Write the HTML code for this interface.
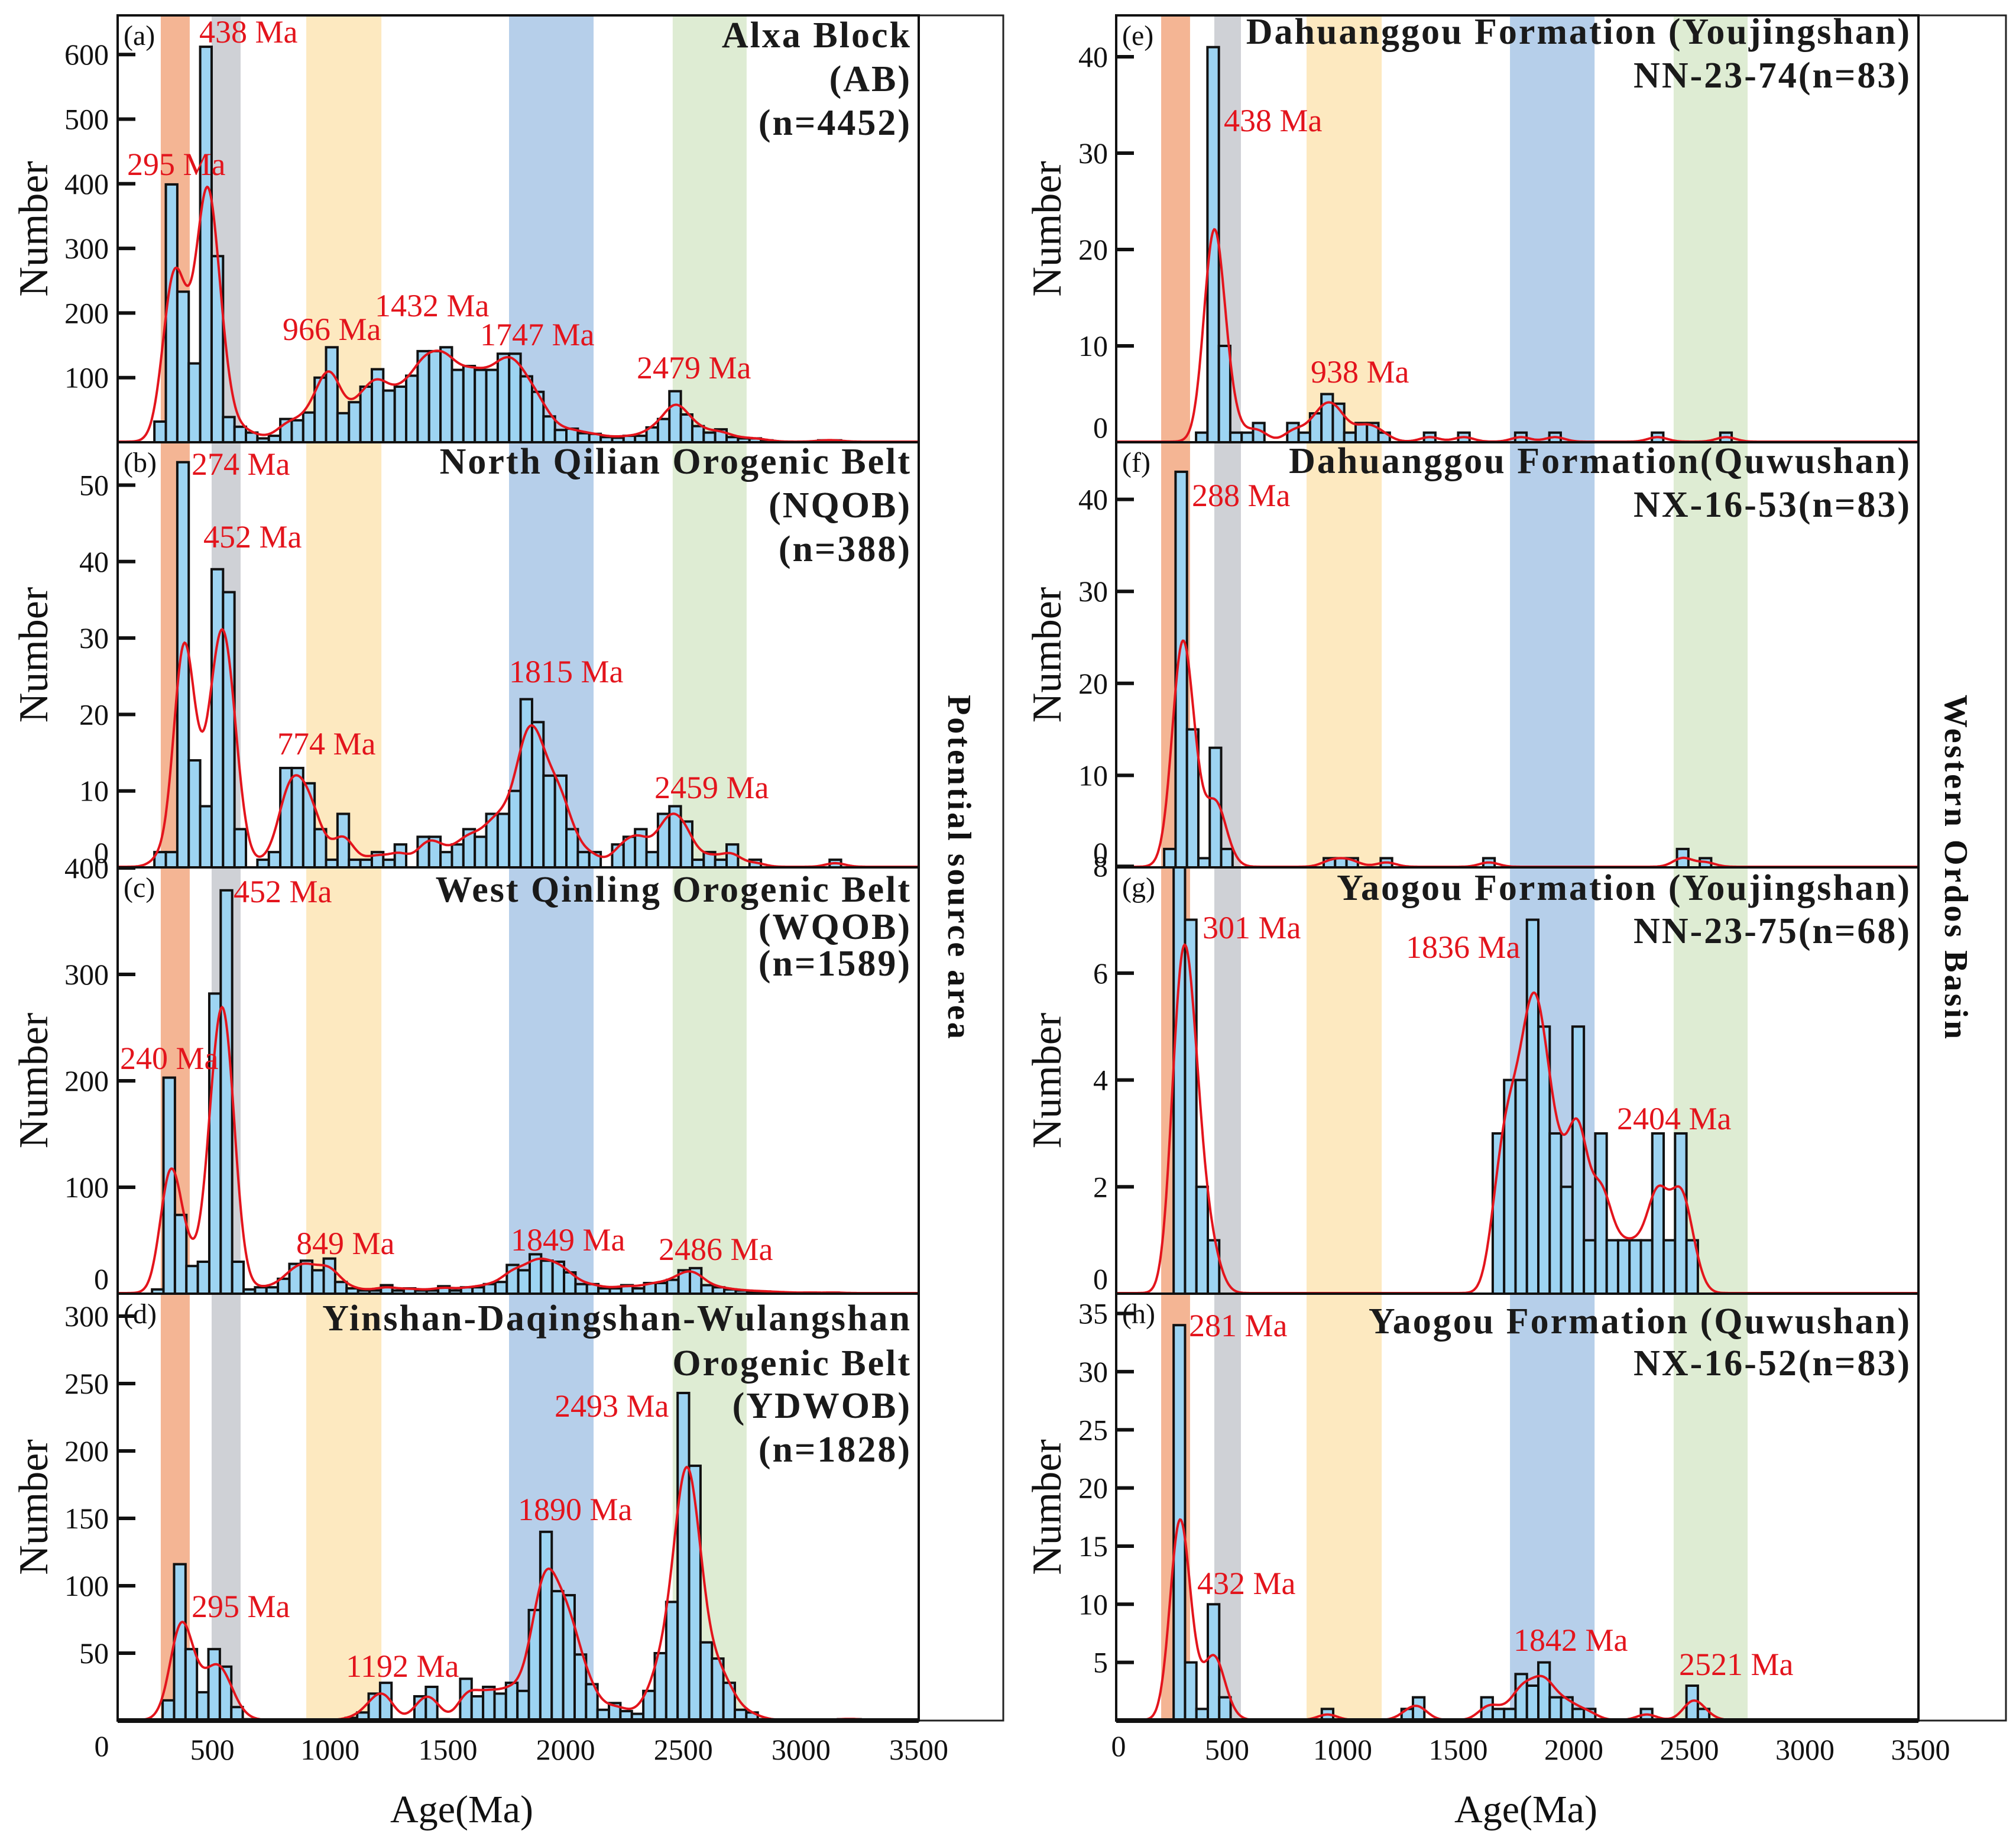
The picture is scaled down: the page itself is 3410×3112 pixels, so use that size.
<!DOCTYPE html>
<html><head><meta charset="utf-8"><style>
html,body{margin:0;padding:0;background:#fff}
svg{display:block}
text{font-family:"Liberation Serif",serif}
</style></head><body>
<svg id="fig" xmlns="http://www.w3.org/2000/svg" width="3410" height="3112" viewBox="0 0 3410 3112">
<rect x="0" y="0" width="3410" height="3112" fill="#fff"/>
<g id="layer"></g>
</svg>
<script>
// ---- data: histogram counts (one value per age bin) ----
const valsA=[32,399,233,122,612,288,39,24,15,6,10,36,34,46,100,147,45,62,86,113,80,86,103,141,141,147,112,118,112,112,137,137,102,78,40,19,21,14,13,8,7,10,10,23,36,79,43,25,15,20,8,6,6,3,0,0,0,0,3,3];
const valsB=[2,2,53,14,8,39,36,5,0,1,2,13,13,11,5,1,7,1,1,2,1,3,0,4,4,2,3,5,4,7,7,10,22,19,12,12,5,2,2,0,3,4,5,2,7,8,6,1,2,1,3,0,1,0,0,0,0,0,0,1];
const valsC=[4,203,74,26,30,282,379,30,4,6,6,14,28,31,22,33,11,5,3,3,8,3,5,3,3,7,3,6,6,9,11,27,22,37,31,30,20,9,9,5,5,8,5,10,10,13,22,24,8,6,4,3,2,2,1,1,0,1,0,1];
const valsD=[15,116,53,21,53,40,10,1,0,0,0,0,0,0,0,0,2,6,20,28,0,0,18,25,1,0,31,18,25,20,28,22,82,140,96,93,49,27,8,13,7,5,22,50,88,243,189,58,46,28,8,6,1,0,0,0,0,0,0,1,1];
const valsE=[1,41,10,1,1,2,0,0,2,1,3,5,4,1,2,2,1,0,0,0,1,0,0,1,0,0,0,0,1,0,0,1,0,0,0,0,0,0,0,0,1,0,0,0,0,0,1];
const valsF=[2,43,15,1,13,2,0,0,0,0,0,0,0,0,1,1,1,0,0,1,0,0,0,0,0,0,0,0,1,0,0,0,0,0,0,0,0,0,0,0,0,0,0,0,0,2,0,1];
const valsG=[9,7,2,1,0,0,0,0,0,0,0,0,0,0,0,0,0,0,0,0,0,0,0,0,0,0,0,0,3,4,4,7,5,3,2,5,1,3,1,1,1,1,3,1,3,1];
const valsH=[34,5,1,10,2,0,0,0,0,0,0,0,0,1,0,0,0,0,0,0,1,2,0,0,0,0,0,2,1,1,4,3,5,2,2,1,1,0,0,0,0,1,0,0,0,3,1];
// first-bin start age (Ma) and bin width (Ma)
const binStarts=[254,254,244,289,366,228,269,269];
const binWidths=[48.6,48.6,48.6,48.6,49.3,49.3,49.3,49.3];
// y tick values per panel
const yTicksA=[100,200,300,400,500,600];
const yTicksB=[0,10,20,30,40,50];
const yTicksC=[0,100,200,300,400];
const yTicksD=[50,100,150,200,250,300];
const yTicksE=[0,10,20,30,40];
const yTicksF=[0,10,20,30,40];
const yTicksG=[0,2,4,6,8];
const yTicksH=[5,10,15,20,25,30,35];
const xTicks=[0,500,1000,1500,2000,2500,3000,3500];
// age bands (Ma) [start,end] per column
const bandsLeft=[[281,404],[497,620],[899,1218],[1760,2119],[2455,2769]];
const bandsRight=[[215,340],[445,560],[844,1169],[1724,2090],[2432,2752]];
const bandColors=['#f4b594','#cfd1d6','#fde9c0','#b6cfea','#deecd3'];
// peak labels
const peaksA=[['438 Ma',337,72],['295 Ma',215,296],['966 Ma',478,575],['1432 Ma',634,535],['1747 Ma',812,584],['2479 Ma',1077,640]];
const peaksB=[['274 Ma',324,803],['452 Ma',344,926],['774 Ma',469,1276],['1815 Ma',861,1154],['2459 Ma',1107,1350]];
const peaksC=[['452 Ma',395,1526],['240 Ma',203,1808],['849 Ma',501,2121],['1849 Ma',864,2115],['2486 Ma',1114,2131]];
const peaksD=[['2493 Ma',938,2396],['1890 Ma',876,2571],['295 Ma',324,2735],['1192 Ma',585,2836]];
const peaksE=[['438 Ma',2070,222],['938 Ma',2217,647]];
const peaksF=[['288 Ma',2016,856]];
const peaksG=[['301 Ma',2034,1587],['1836 Ma',2378,1620],['2404 Ma',2735,1910]];
const peaksH=[['281 Ma',2011,2260],['432 Ma',2025,2696],['1842 Ma',2560,2792],['2521 Ma',2840,2833]];
const titlesA=['Alxa Block','(AB)','(n=4452)'];
const titlesB=['North Qilian Orogenic Belt','(NQOB)','(n=388)'];
const titlesC=['West Qinling Orogenic Belt','(WQOB)','(n=1589)'];
const titlesD=['Yinshan-Daqingshan-Wulangshan','Orogenic Belt','(YDWOB)','(n=1828)'];
const titlesE=['Dahuanggou Formation (Youjingshan)','NN-23-74(n=83)'];
const titlesF=['Dahuanggou Formation(Quwushan)','NX-16-53(n=83)'];
const titlesG=['Yaogou Formation (Youjingshan)','NN-23-75(n=68)'];
const titlesH=['Yaogou Formation (Quwushan)','NX-16-52(n=83)'];

// ---- layout ----
const NS='http://www.w3.org/2000/svg';
const layer=document.getElementById('layer');
function mk(tag,attrs,parent){const e=document.createElementNS(NS,tag);for(const k in attrs)e.setAttribute(k,attrs[k]);(parent||layer).appendChild(e);return e;}
const cols=[{x0:160,k:0.3983,left:199,right:1554,outer:1697,bands:bandsLeft,labR:184},{x0:1880,k:0.391,left:1888,right:3245,outer:3393,bands:bandsRight,labR:1874}];
const rows=[{top:26,base:748},{top:748,base:1467},{top:1467,base:2188},{top:2188,base:2910}];
const panels=[
 {c:0,r:0,v:valsA,t:yTicksA,p:peaksA,ti:titlesA,s:1.093,id:'a',ty:[80,154,228]},
 {c:0,r:1,v:valsB,t:yTicksB,p:peaksB,ti:titlesB,s:12.93,id:'b',ty:[801,875,949]},
 {c:0,r:2,v:valsC,t:yTicksC,p:peaksC,ti:titlesC,s:1.80,id:'c',ty:[1525,1588,1650]},
 {c:0,r:3,v:valsD,t:yTicksD,p:peaksD,ti:titlesD,s:2.28,id:'d',ty:[2250,2326,2398,2472]},
 {c:1,r:0,v:valsE,t:yTicksE,p:peaksE,ti:titlesE,s:16.3,id:'e',ty:[74,148]},
 {c:1,r:1,v:valsF,t:yTicksF,p:peaksF,ti:titlesF,s:15.56,id:'f',ty:[800,874]},
 {c:1,r:2,v:valsG,t:yTicksG,p:peaksG,ti:titlesG,s:90.35,id:'g',ty:[1522,1595]},
 {c:1,r:3,v:valsH,t:yTicksH,p:peaksH,ti:titlesH,s:19.67,id:'h',ty:[2255,2326]}
];
function xScale(col,age){return col.x0+col.k*age;}

cols.forEach((col,ci)=>{
 const fr=mk('rect',{x:col.left,y:26,width:col.outer-col.left,height:2884,fill:'none',stroke:'#222','stroke-width':3});
 
 
});

const defs=mk('defs',{});
panels.forEach((P,pi)=>{
 const col=cols[P.c],row=rows[P.r];
 const g=mk('g',{});
 
 
 const cp=mk('clipPath',{id:'clip'+pi},defs);
 mk('rect',{x:col.left,y:row.top,width:col.right-col.left,height:row.base-row.top},cp);
 const inner=mk('g',{'clip-path':'url(#clip'+pi+')'},g);
 col.bands.forEach((b,bi)=>{
  const x1=xScale(col,b[0]),x2=xScale(col,b[1]);
  const r=mk('rect',{x:x1,y:row.top,width:x2-x1,height:row.base-row.top,fill:bandColors[bi]},inner);
  
  
 });
 const st=binStarts[pi],bw=binWidths[pi];
 P.v.forEach((v,i)=>{
  if(v<=0)return;
  const x1=xScale(col,st+i*bw),x2=xScale(col,st+(i+1)*bw);
  const h=v*P.s;
  const r=mk('rect',{x:x1,y:row.base-h,width:x2-x1,height:h,fill:'#9dd4f2',stroke:'#111','stroke-width':4},inner);
  
  
 });
 const sig=0.85*bw,norm=bw/(sig*Math.sqrt(2*Math.PI));
 let d='';
 const a0=(col.left-col.x0)/col.k,a1=(col.right-col.x0)/col.k;
 for(let a=a0;a<=a1;a+=4){
  let y=0;
  P.v.forEach((v,i)=>{const c=st+(i+0.5)*bw;const z=(a-c)/sig;if(Math.abs(z)<6)y+=v*norm*Math.exp(-0.5*z*z);});
  d+=(d?'L':'M')+xScale(col,a).toFixed(1)+','+(row.base-y*P.s-1).toFixed(1);
 }
 const cv=mk('path',{d:d,fill:'none',stroke:'#e3141c','stroke-width':4},inner);
 
 
 const fr=mk('rect',{x:col.left,y:row.top,width:col.right-col.left,height:row.base-row.top,fill:'none',stroke:'#111','stroke-width':4},g);
 
 
 P.t.forEach(tv=>{
  const y=row.base-tv*P.s;
  if(tv>0){
   const tk=mk('line',{x1:col.left,x2:col.left+30,y1:y,y2:y,stroke:'#111','stroke-width':6},g);
   
   
  }
  const ly=tv===0?y-8:y+17;
  const tl=mk('text',{x:col.labR,y:ly,'font-size':50,'text-anchor':'end',fill:'#111'},g);
  tl.textContent=String(tv);
  
  
 });
 const pl=mk('text',{x:col.left+10,y:row.top+50,'font-size':48,fill:'#111'},g);
 pl.textContent='('+P.id+')';
 
 
 P.ti.forEach((line,li)=>{
  const t=mk('text',{x:col.right-12,y:P.ty[li],'font-size':62,'font-weight':'bold','text-anchor':'end','letter-spacing':3,fill:'#1a1a1a'},g);
  t.textContent=line;
  
  
 });
 P.p.forEach(pk=>{
  const t=mk('text',{x:pk[1],y:pk[2],'font-size':54,fill:'#e3141c'},g);
  t.textContent=pk[0];
  
  
 });
 const yt=mk('text',{x:0,y:0,'font-size':70,'text-anchor':'middle',fill:'#111',transform:'translate('+(P.c===0?80:1794)+','+((row.top+row.base)/2)+') rotate(-90)'},g);
 yt.textContent='Number';
 
 
});
cols.forEach((col,ci)=>{
 const ax=mk('line',{x1:col.left,x2:col.right,y1:2910,y2:2910,stroke:'#111','stroke-width':8});
 
 
 xTicks.forEach(tv=>{
  const t=mk('text',{x:xScale(col,tv)+(tv===0?12:0),y:tv===0?2970:2976,'font-size':50,'text-anchor':'middle',fill:'#111'});
  t.textContent=String(tv);
  
  
 });
 const at=mk('text',{x:ci===0?781:2581,y:3082,'font-size':66,'text-anchor':'middle',fill:'#111'});
 at.textContent='Age(Ma)';
 
 
 const side=mk('text',{x:0,y:0,'font-size':56,'font-weight':'bold','text-anchor':'middle','letter-spacing':4,fill:'#111',transform:'translate('+(ci===0?1604:3290)+',1468) rotate(90)'});
 side.textContent=ci===0?'Potential source area':'Western Ordos Basin';
 
 
});
</script>
</body></html>
